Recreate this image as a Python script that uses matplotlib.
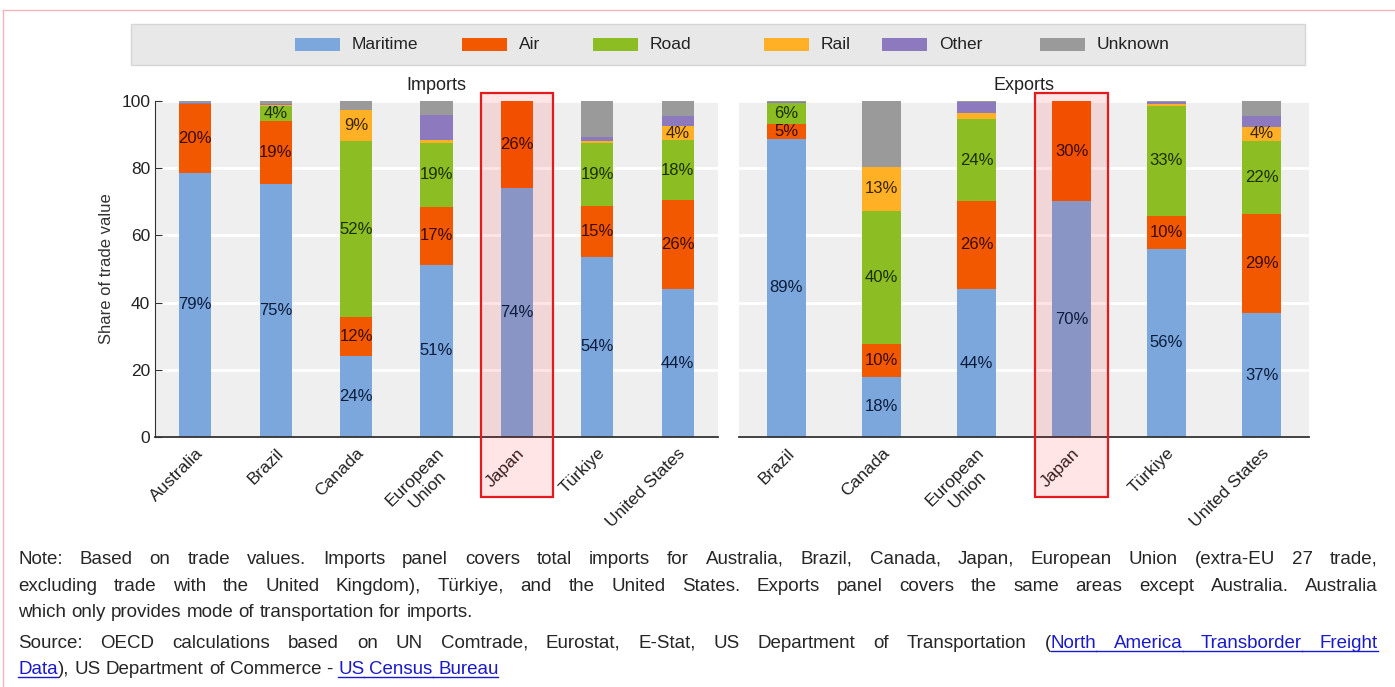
import matplotlib
matplotlib.use("Agg")
import matplotlib.pyplot as plt
from matplotlib.patches import Rectangle
from matplotlib.lines import Line2D
import matplotlib.transforms as mtransforms

plt.rcParams['font.family'] = ['Liberation Sans', 'DejaVu Sans']

MODES = ["Maritime", "Air", "Road", "Rail", "Other", "Unknown"]
COLORS = ["#7ba7dc", "#f25800", "#8cbd22", "#ffb025", "#8d79bd", "#9a9a9a"]
LABEL_COLORS = ["#0c1d3c", "#3a0d00", "#1a2f00", "#3a2400", None, None]

imp_countries = ["Australia", "Brazil", "Canada", "European\nUnion", "Japan", "Türkiye", "United States"]
imp_maritime = [78.6, 75.2, 24.1, 51.2, 74.1, 53.6, 44.0]
imp_air = [20.4, 18.9, 11.6, 17.3, 25.9, 15.2, 26.4]
imp_road = [0.0, 4.3, 52.3, 19.0, 0.0, 18.7, 17.9]
imp_rail = [0.0, 0.3, 9.3, 0.9, 0.0, 0.5, 4.2]
imp_other = [0.5, 0.3, 0.0, 7.4, 0.0, 1.3, 2.9]
imp_unknown = [0.5, 1.0, 2.7, 4.2, 0.0, 10.7, 4.6]

exp_countries = ["Brazil", "Canada", "European\nUnion", "Japan", "Türkiye", "United States"]
exp_maritime = [88.7, 17.9, 44.0, 70.2, 56.0, 36.9]
exp_air = [4.6, 9.7, 26.3, 29.8, 9.8, 29.4]
exp_road = [6.0, 39.6, 24.2, 0.0, 32.7, 21.9]
exp_rail = [0.0, 13.3, 1.8, 0.0, 0.7, 4.2]
exp_other = [0.5, 0.0, 3.4, 0.0, 0.6, 3.0]
exp_unknown = [0.2, 19.5, 0.3, 0.0, 0.2, 4.6]

HIGHLIGHT = "Japan"

NOTE_LINES = [
    [("Note: Based on trade values. Imports panel covers total imports for Australia, Brazil, Canada, Japan, "
      "European Union (extra-EU 27 trade,", False)],
    [("excluding trade with the United Kingdom), Türkiye, and the United States. Exports panel covers the same "
      "areas except Australia. Australia", False)],
    [("which only provides mode of transportation for imports.", False)],
    [("Source: OECD calculations based on UN Comtrade, Eurostat, E-Stat, US Department of Transportation (", False),
     ("North America Transborder Freight", True)],
    [("Data", True), ("), US Department of Commerce - ", False), ("US Census Bureau", True)],
]
NOTE_JUSTIFY = [True, True, False, True, False]

W, H = 1395, 687
fig = plt.figure(figsize=(W / 100, H / 100), dpi=100)


def px(x0, y0, x1, y1):
    # pixel box (from top-left) -> figure fraction rect
    return [x0 / W, 1 - y1 / H, (x1 - x0) / W, (y1 - y0) / H]


def panel(ax, countries, series, half_w, title, show_y):
    ax.set_facecolor("#efefef")
    x = list(range(len(countries)))
    bottom = [0.0] * len(x)
    for k, vals in enumerate(series):
        ax.bar(x, vals, 0.4 if show_y else 0.41, bottom=bottom, color=COLORS[k], zorder=2, linewidth=0)
        if LABEL_COLORS[k]:
            for i, v in enumerate(vals):
                if v >= 3.5:
                    ax.text(i, bottom[i] + v / 2, f"{round(v)}%", ha="center", va="center",
                            fontsize=12, color=LABEL_COLORS[k], zorder=6)
        bottom = [b + v for b, v in zip(bottom, vals)]
    ax.set_xlim(-0.5, len(x) - 0.5)
    ax.set_ylim(0, 100)
    ax.set_yticks([0, 20, 40, 60, 80, 100])
    ax.grid(axis="y", color="white", linewidth=2, zorder=1)
    ax.set_axisbelow(True)
    ax.set_xticks(x)
    ax.set_xticklabels(countries, rotation=45, ha="right", rotation_mode="anchor",
                       multialignment="center", fontsize=12.5, color="#222222")
    ax.tick_params(axis="x", direction="in", length=5, color="#333333", pad=6)
    for s in ["top", "right"]:
        ax.spines[s].set_visible(False)
    ax.spines["bottom"].set_color("#333333")
    ax.spines["bottom"].set_linewidth(1.3)
    if show_y:
        ax.spines["left"].set_color("#333333")
        ax.tick_params(axis="y", direction="in", length=5, color="#333333", labelsize=12.5,
                       labelcolor="#222222")
        ax.set_ylabel("Share of trade value", fontsize=12, color="#333333", labelpad=5)
    else:
        ax.spines["left"].set_visible(False)
        ax.tick_params(axis="y", left=False, labelleft=False)
    ax.text(0.5, 1.045, title, transform=ax.transAxes, ha="center", va="center",
            fontsize=13, color="#222222")
    # highlight box around Japan
    j = countries.index(HIGHLIGHT)
    tr = mtransforms.blended_transform_factory(ax.transData, ax.transAxes)
    ax.add_patch(Rectangle((j - half_w, -0.179), 2 * half_w, 1.203, transform=tr,
                           facecolor=(1, 0, 0, 0.1), edgecolor="#e41a1c", linewidth=1.6,
                           clip_on=False, zorder=5))


ax1 = fig.add_axes(px(155, 101, 718, 437))
ax2 = fig.add_axes(px(739, 101, 1309, 437))
panel(ax1, imp_countries, [imp_maritime, imp_air, imp_road, imp_rail, imp_other, imp_unknown],
      0.45, "Imports", True)
panel(ax2, exp_countries, [exp_maritime, exp_air, exp_road, exp_rail, exp_other, exp_unknown],
      0.385, "Exports", False)

# legend bar (entries laid out like the source, uneven spacing)
fig.patches.append(Rectangle(px(131, 24, 1305, 65)[:2], 1174 / W, 41 / H, transform=fig.transFigure,
                             facecolor="#e8e8e8", edgecolor="#d6d6d6", linewidth=1, zorder=0))
legend_x = [295, 462, 593, 764, 882, 1040]
for lx, m, c in zip(legend_x, MODES, COLORS):
    fig.patches.append(Rectangle(px(lx, 38, lx + 45, 51)[:2], 45 / W, 13 / H,
                                 transform=fig.transFigure, facecolor=c, linewidth=0, zorder=1))
    fig.text((lx + 57) / W, 1 - 44.5 / H, m, ha="left", va="center", fontsize=12.5, color="#222222")

# pink frame lines at top/left
fig.add_artist(Line2D([3 / W, 1], [1 - 10 / H, 1 - 10 / H], color="#f2b5bd", linewidth=1))
fig.add_artist(Line2D([3 / W, 3 / W], [0, 1 - 10 / H], color="#f2b5bd", linewidth=1))

# notes, justified like the source text block
renderer = fig.canvas.get_renderer()
NOTE_FONT = dict(family=["Liberation Sans", "DejaVu Sans"], fontsize=13.5)
LEFT, RIGHT = 18, 1378
baselines = [564, 591, 617, 648, 674]


def width_of(s):
    t = fig.text(0, 0, s, **NOTE_FONT)
    w = t.get_window_extent(renderer).width
    t.remove()
    return w


space = width_of("a a") - width_of("aa")
for parts, just, yb in zip(NOTE_LINES, NOTE_JUSTIFY, baselines):
    words = []
    pend = False
    for text, link in parts:
        for i, w in enumerate(text.split(" ")):
            if i > 0:
                pend = True
            if w:
                words.append((w, link, pend and len(words) > 0))
                pend = False
    widths = [width_of(w) for w, _, _ in words]
    ngaps = sum(1 for _, _, g in words if g)
    gap = (RIGHT - LEFT - sum(widths)) / ngaps if just else space
    xx = LEFT
    y = 1 - yb / H
    prev_link_end = None
    for (w, link, g), wd in zip(words, widths):
        if g:
            xx += gap
        col = "#1a1acc" if link else "#262626"
        fig.text(xx / W, y, w, color=col, va="baseline", ha="left", **NOTE_FONT)
        if link:
            x0 = prev_link_end if (prev_link_end is not None and g) else xx
            fig.add_artist(Line2D([x0 / W, (xx + wd) / W], [y - 2.5 / H, y - 2.5 / H],
                                  color="#1a1acc", linewidth=1))
            prev_link_end = xx + wd
        else:
            prev_link_end = None
        xx += wd

fig.savefig("out.png", dpi=100)
